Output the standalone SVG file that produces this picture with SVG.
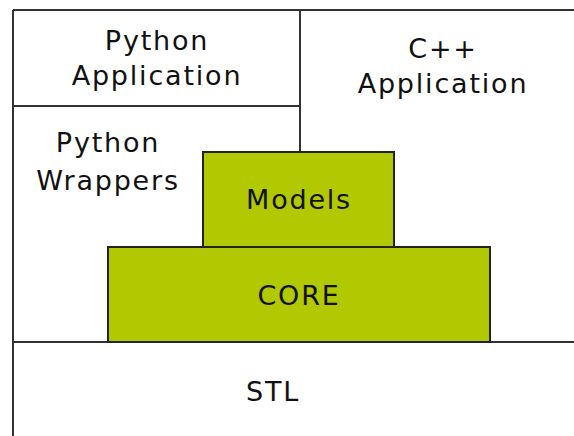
<svg xmlns="http://www.w3.org/2000/svg" width="574" height="436" viewBox="0 0 574 436">
<style>
.t{font-family:"DejaVu Sans",Verdana,sans-serif;font-size:27px;letter-spacing:1.8px;fill:#111;text-anchor:middle}
.ln{stroke:#333;stroke-width:2;fill:none}
.box{fill:#b2c800;stroke:#222;stroke-width:2}
</style>
<rect width="574" height="436" fill="#fff"/>
<g id="connectors">
<path class="ln" d="M13,10 H574 M13,10 V436 M300,10 V152 M13,106 H300 M13,342 H574"/>
</g>
<g id="python-app"><text class="t" x="157" y="50">Python</text><text class="t" x="157" y="85">Application</text></g>
<g id="cpp-app"><text class="t" x="443" y="58">C++</text><text class="t" x="443" y="93">Application</text></g>
<g id="python-wrappers"><text class="t" x="108" y="152">Python</text><text class="t" x="108" y="190">Wrappers</text></g>
<g id="models"><rect class="box" x="203" y="152" width="191" height="95"/><text class="t" x="299" y="209">Models</text></g>
<g id="core"><rect class="box" x="108" y="247" width="382" height="95"/><text class="t" x="299" y="305">CORE</text></g>
<g id="stl"><text class="t" x="273" y="401">STL</text></g>
</svg>
